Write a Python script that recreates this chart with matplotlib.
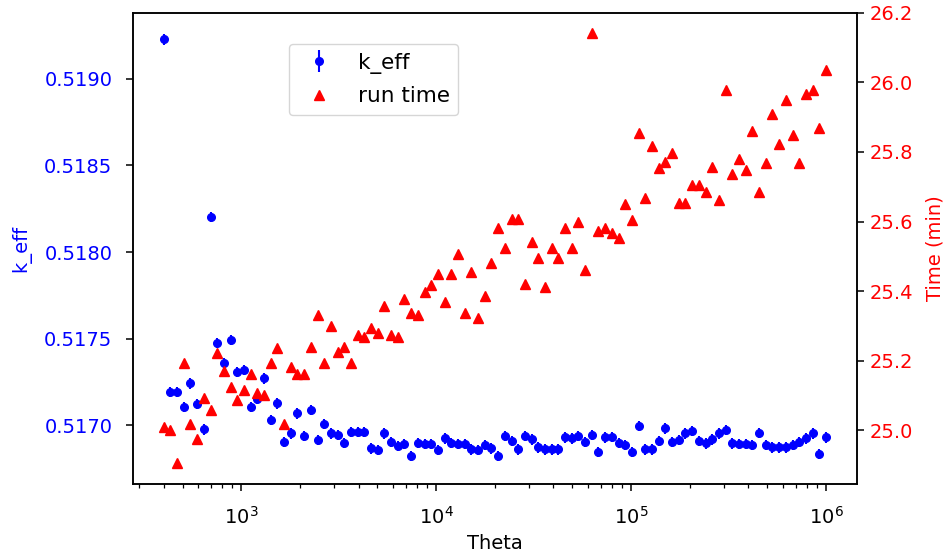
import matplotlib
matplotlib.use("Agg")
import matplotlib.pyplot as plt

theta = [400, 433, 468, 507, 549, 594, 643, 696, 753, 815,
         882, 954, 1033, 1118, 1209, 1309, 1416, 1533, 1659, 1795,
         1943, 2103, 2276, 2463, 2665, 2884, 3122, 3378, 3656, 3957,
         4282, 4634, 5015, 5428, 5874, 6357, 6880, 7446, 8058, 8720,
         9440, 10213, 11053, 11962, 12946, 14010, 15162, 16409, 17759, 19219,
         20805, 22510, 24361, 26364, 28532, 30878, 33418, 36166, 39139, 42358,
         45860, 49610, 53690, 58104, 62882, 68053, 73649, 79705, 86259, 93352,
         101086, 109400, 118400, 128130, 138670, 150070, 162410, 175770, 190220, 205860,
         222790, 241110, 260930, 282390, 305610, 330740, 357940, 387370, 419220, 453690,
         491000, 531370, 575070, 622350, 673530, 728920, 788850, 853710, 923920, 1000000]

k_eff = [0.519229, 0.517192, 0.517192, 0.517106, 0.517241, 0.517121, 0.516975, 0.518204, 0.517476, 0.517357,
         0.517491, 0.517308, 0.517318, 0.517106, 0.517149, 0.517270, 0.517029, 0.517125, 0.516903, 0.516952,
         0.517068, 0.516936, 0.517087, 0.516913, 0.517006, 0.516952, 0.516942, 0.516898, 0.516961, 0.516961,
         0.516961, 0.516865, 0.516855, 0.516952, 0.516903, 0.516879, 0.516890, 0.516821, 0.516898, 0.516890,
         0.516890, 0.516855, 0.516923, 0.516898, 0.516890, 0.516890, 0.516860, 0.516855, 0.516884, 0.516865,
         0.516821, 0.516936, 0.516909, 0.516860, 0.516936, 0.516917, 0.516871, 0.516860, 0.516860, 0.516860,
         0.516929, 0.516923, 0.516936, 0.516903, 0.516942, 0.516846, 0.516929, 0.516932, 0.516898, 0.516884,
         0.516846, 0.516994, 0.516860, 0.516860, 0.516909, 0.516981, 0.516903, 0.516913, 0.516952, 0.516967,
         0.516909, 0.516894, 0.516917, 0.516952, 0.516971, 0.516894, 0.516890, 0.516890, 0.516884, 0.516955,
         0.516884, 0.516871, 0.516871, 0.516871, 0.516884, 0.516903, 0.516923, 0.516952, 0.516832, 0.516929]

k_err = 0.00003

run_time = [25.008, 25.000, 24.906, 25.194, 25.019, 24.976, 25.093, 25.058, 25.222, 25.170,
            25.125, 25.088, 25.115, 25.163, 25.106, 25.101, 25.194, 25.237, 25.019, 25.182,
            25.163, 25.163, 25.238, 25.331, 25.194, 25.299, 25.224, 25.240, 25.194, 25.273,
            25.268, 25.294, 25.280, 25.357, 25.273, 25.268, 25.376, 25.336, 25.331, 25.398,
            25.417, 25.449, 25.369, 25.449, 25.506, 25.338, 25.456, 25.324, 25.386, 25.480,
            25.580, 25.525, 25.606, 25.606, 25.419, 25.542, 25.494, 25.412, 25.525, 25.494,
            25.580, 25.525, 25.599, 25.462, 26.142, 25.573, 25.580, 25.568, 25.552, 25.650,
            25.604, 25.854, 25.667, 25.817, 25.753, 25.772, 25.798, 25.654, 25.654, 25.705,
            25.705, 25.686, 25.756, 25.662, 25.978, 25.736, 25.779, 25.748, 25.861, 25.686,
            25.767, 25.909, 25.823, 25.948, 25.849, 25.767, 25.967, 25.978, 25.868, 26.036]

fig = plt.figure(figsize=(9.51, 5.59), dpi=100)
ax = fig.add_axes([0.140, 0.134, 0.761, 0.843])
ax2 = ax.twinx()

eb = ax.errorbar(theta, k_eff, yerr=k_err, fmt='o', color='b', ms=5.5, label='k_eff')
tr, = ax2.plot(theta, run_time, '^', color='r', ms=6.5, label='run time')

ax.set_xscale('log')
ax.set_xlim(279, 1.44e6)
ax.set_ylim(0.516659, 0.519382)
ax2.set_ylim(24.845, 26.2)

fs = 14
for a in (ax, ax2):
    a.tick_params(which='major', length=5, width=1.1, labelsize=fs)
    a.tick_params(which='minor', length=2.8, width=0.9)
    for s in a.spines.values():
        s.set_linewidth(1.1)
ax.tick_params(axis='x', pad=11)
ax.tick_params(axis='y', pad=10, labelcolor='b')
ax2.tick_params(axis='y', pad=4, labelcolor='r')
ax.set_xlabel('Theta', fontsize=fs, labelpad=4)
ax.set_ylabel('k_eff', color='b', fontsize=fs, labelpad=9)
ax2.set_ylabel('Time (min)', color='r', fontsize=fs, labelpad=9)

ax2.legend([eb, tr], ['k_eff', 'run time'], loc='upper left',
           bbox_to_anchor=(0.215, 0.934), borderaxespad=0, fontsize=15.5,
           labelspacing=0.6)

fig.savefig('out.png', dpi=100)
